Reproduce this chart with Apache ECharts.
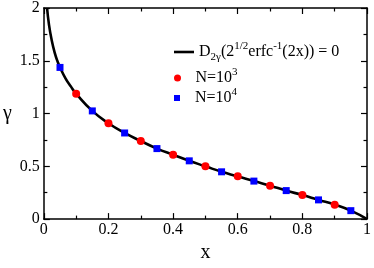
<!DOCTYPE html>
<html><head><meta charset="utf-8">
<script src="https://cdn.jsdelivr.net/npm/echarts@6/dist/echarts.min.js"></script>
<style>html,body{margin:0;padding:0;background:#fff}#c{width:374px;height:268px}</style>
</head><body><div id="c"></div>
<script>
// curve
const curveX = [0.010,0.016,0.024,0.034,0.042,0.05,0.067,0.084,0.1,0.15,0.2,0.25,0.3,0.35,0.4,0.45,0.5,0.55,0.6,0.65,0.7,0.75,0.8,0.85,0.9,0.95,1.0];
const curveY = [2.0,1.84,1.70,1.572,1.498,1.437,1.334,1.255,1.188,1.025,0.908,0.816,0.74,0.668,0.61,0.552,0.5,0.448,0.405,0.36,0.317,0.27,0.228,0.182,0.137,0.08,0.0];
// N=10^3 (red circles)
const n3X = [0.1,0.2,0.3,0.4,0.5,0.6,0.7,0.8,0.9];
const n3Y = [1.188,0.908,0.74,0.61,0.5,0.405,0.317,0.228,0.137];
// N=10^4 (blue squares)
const n4X = [0.05,0.15,0.25,0.35,0.45,0.55,0.65,0.75,0.85,0.95];
const n4Y = [1.437,1.025,0.816,0.668,0.552,0.448,0.36,0.27,0.182,0.08];
const xTicks = ['0','0.2','0.4','0.6','0.8','1'];
const yTicks = ['0','0.5','1','1.5','2'];

const zip = (a,b)=>a.map((v,i)=>[v,b[i]]);
const F = "'Liberation Serif', serif";
const chart = echarts.init(document.getElementById('c'), null, {renderer:'canvas'});
const axisBase = {
  axisLine:{show:true,onZero:false,lineStyle:{color:'#000',width:1.5}},
  axisTick:{show:true,inside:true,length:6,lineStyle:{color:'#000',width:1.2}},
  minorTick:{show:true,splitNumber:2,length:3.5,lineStyle:{color:'#000',width:1.2}},
  splitLine:{show:false}
};
const T = (size)=>({fontFamily:F,fontSize:size,color:'#000'});
chart.setOption({
  animation:false,
  textStyle:{fontFamily:F},
  grid:{left:40,right:5,top:7,bottom:31,containLabel:false},
  xAxis:[
    Object.assign({type:'value',min:0,max:1,interval:0.2,position:'bottom',
      name:'x',nameLocation:'middle',nameGap:19,
      nameTextStyle:T(20),
      axisLabel:Object.assign({margin:3,formatter:v=>xTicks[Math.round(v/0.2)]},T(16))},axisBase),
    Object.assign({type:'value',min:0,max:1,interval:0.2,position:'top',axisLabel:{show:false}},axisBase)
  ],
  yAxis:[
    Object.assign({type:'value',min:0,max:2,interval:0.5,position:'left',
      name:'γ',nameLocation:'middle',nameGap:32,nameRotate:0,
      nameTextStyle:T(20),
      axisLabel:Object.assign({margin:4,padding:[4,0,0,0],formatter:v=>yTicks[Math.round(v/0.5)]},T(16))},axisBase),
    Object.assign({type:'value',min:0,max:2,interval:0.5,position:'right',axisLabel:{show:false}},axisBase)
  ],
  legend:[
    {left:169,top:36,itemWidth:20,itemHeight:7,data:[{name:'curve',icon:'path://M0,0H20V2.6H0Z'}],
      textStyle:Object.assign(T(16),{
        rich:{m:T(16),
              sb:Object.assign(T(11),{verticalAlign:'bottom',lineHeight:22,padding:[8,0,0,0]}),
              sp:Object.assign(T(11),{verticalAlign:'top',lineHeight:22,padding:[0,0,8,0]})}}),
      formatter:()=>'{m|D}{sb|2γ}{m|(2}{sp|1/2}{m|erfc}{sp|-1}{m|(2x)) = 0}'},
    {left:169,top:62,itemWidth:20,itemHeight:7,data:[{name:'N3',icon:'circle'}],
      textStyle:Object.assign(T(16),{
        rich:{m:Object.assign(T(16),{padding:[0,0,0,3]}),
              sp:Object.assign(T(11),{verticalAlign:'top',lineHeight:22,padding:[0,0,8,0]})}}),
      formatter:()=>'{m|N=10}{sp|3}'},
    {left:169,top:82,itemWidth:20,itemHeight:6,data:[{name:'N4',icon:'path://M0,0H6V6H0Z'}],
      textStyle:Object.assign(T(16),{
        rich:{m:Object.assign(T(16),{padding:[0,0,0,3]}),
              sp:Object.assign(T(11),{verticalAlign:'top',lineHeight:22,padding:[0,0,8,0]})}}),
      formatter:()=>'{m|N=10}{sp|4}'}
  ],
  series:[
    {name:'curve',type:'line',smooth:0.5,showSymbol:false,symbol:'none',data:zip(curveX,curveY),
      lineStyle:{color:'#000',width:2.6},itemStyle:{color:'#000'},z:2},
    {name:'N3',type:'scatter',symbol:'circle',symbolSize:8,data:zip(n3X,n3Y),
      itemStyle:{color:'#ff0000',opacity:1},z:3},
    {name:'N4',type:'scatter',symbol:'rect',symbolSize:7,data:zip(n4X,n4Y),
      itemStyle:{color:'#0000ff',opacity:1},z:3}
  ]
});
</script></body></html>
